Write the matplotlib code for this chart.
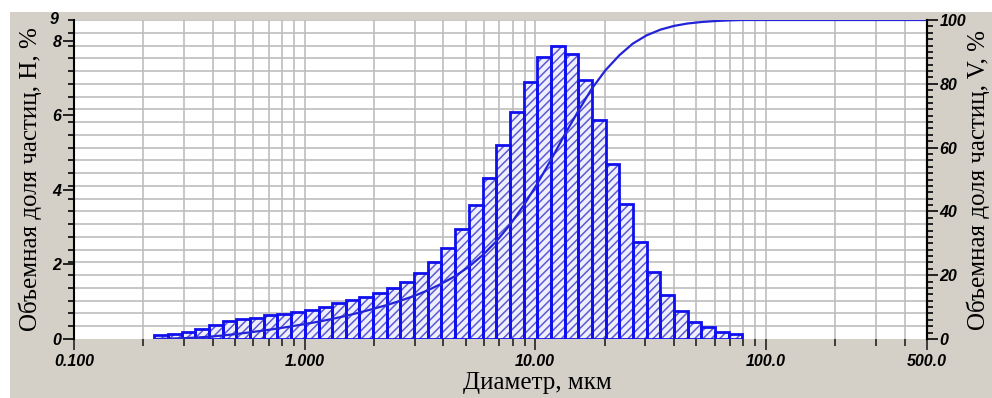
import numpy as np
import matplotlib.pyplot as plt
from matplotlib.patches import Rectangle
from matplotlib.ticker import FixedLocator, MultipleLocator, NullFormatter

# границы классов крупности, мкм
bordes = [0.223, 0.256, 0.293, 0.336, 0.385, 0.441, 0.506, 0.580, 0.665, 0.762,
          0.874, 1.00, 1.15, 1.32, 1.51, 1.73, 1.98, 2.27, 2.60, 2.99,
          3.42, 3.92, 4.50, 5.16, 5.91, 6.77, 7.76, 8.90, 10.2, 11.7,
          13.4, 15.4, 17.6, 20.2, 23.2, 26.5, 30.4, 34.9, 40.0, 45.8,
          52.5, 60.2, 69.0, 79.1]
# объемная доля частиц по классам, H, %
H = [0.11, 0.13, 0.20, 0.28, 0.38, 0.47, 0.53, 0.57, 0.63, 0.67,
     0.72, 0.78, 0.86, 0.96, 1.05, 1.13, 1.22, 1.36, 1.53, 1.76,
     2.07, 2.43, 2.96, 3.60, 4.32, 5.21, 6.08, 6.88, 7.55, 7.86,
     7.64, 6.94, 5.87, 4.70, 3.63, 2.60, 1.80, 1.18, 0.76, 0.46,
     0.31, 0.20, 0.13]
d_max = 500.0

xt_val = [0.1, 1.0, 10.0, 100.0, 500.0]
xt_lab = ["0.100", "1.000", "10.00", "100.0", "500.0"]
yt_izq = [0, 2, 4, 6, 8]
yt_der = [0, 20, 40, 60, 80, 100]

# интегральная кривая V, %
bordes = np.array(bordes)
H = np.array(H)
V = np.concatenate([[0.0], np.cumsum(H) / H.sum() * 100.0, [100.0]])
xV = np.concatenate([bordes, [d_max]])

gris = "#d4d0c8"
azul = "#1010ee"
plt.rcParams["hatch.linewidth"] = 1.1
tick_font = dict(family="Liberation Sans", style="italic", weight="bold", size=11.5)
lab_font = dict(family="Liberation Serif", size=18)

fig = plt.figure(figsize=(9.92, 3.98), dpi=100, facecolor="white")
fig.patches.append(Rectangle((10 / 992, 0), 982 / 992, 386 / 398,
                             transform=fig.transFigure, facecolor=gris,
                             edgecolor="none", zorder=-10))

ax = fig.add_axes([74 / 992, 59 / 398, 853 / 992, 319 / 398])
ax.set_xscale("log")
ax.set_xlim(0.1, d_max)
ax.set_ylim(0, 8.55)
ax.set_axisbelow(True)

# гистограмма: штриховка + контур
ax.bar(bordes[:-1], H, width=np.diff(bordes), align="edge",
       facecolor="#eeeefc", edgecolor="#5a5ad4", hatch="////", linewidth=0)
ax.bar(bordes[:-1], H, width=np.diff(bordes), align="edge",
       facecolor="none", edgecolor=azul, linewidth=2.0)

# сетка
minx = [k * 10.0 ** e for e in (-1, 0, 1) for k in range(2, 10)] + [200, 300, 400]
ax.xaxis.set_major_locator(FixedLocator(xt_val))
ax.xaxis.set_minor_locator(FixedLocator(minx))
ax.xaxis.set_minor_formatter(NullFormatter())
ax.set_xticklabels(xt_lab, **tick_font)
ax.yaxis.set_major_locator(FixedLocator(yt_izq))
ax.yaxis.set_minor_locator(MultipleLocator(8.55 / 25))
ax.set_yticklabels([str(v) for v in yt_izq], **tick_font)
ax.grid(True, which="both", axis="x", color="#bdbdbd", lw=1.2)
ax.grid(True, which="minor", axis="y", color="#bdbdbd", lw=1.2)

for s in ("top", "bottom"):
    ax.spines[s].set_visible(False)
ax.spines["left"].set_linewidth(1.5)
ax.spines["right"].set_linewidth(1.5)
ax.tick_params(axis="x", which="major", length=8, width=1.2, color="#222222", pad=3)
ax.tick_params(axis="x", which="minor", length=5, width=1.2, color="#222222")
ax.tick_params(axis="y", which="major", length=8, width=1.4, color="#222222", pad=1)
ax.tick_params(axis="y", which="minor", length=4, width=1.4, color="#222222")
ax.text(-0.018, 1.0, "9", transform=ax.transAxes, ha="right", va="center", **tick_font)

# правая ось
ax2 = ax.twinx()
ax2.set_ylim(0, 100)
ax2.plot(xV, V, color="#2323d8", lw=1.6)
ax2.yaxis.set_major_locator(FixedLocator(yt_der))
ax2.yaxis.set_minor_locator(MultipleLocator(2))
ax2.set_yticklabels([str(v) for v in yt_der], **tick_font)
for s in ("top", "bottom", "left"):
    ax2.spines[s].set_visible(False)
ax2.spines["right"].set_linewidth(1.5)
ax2.tick_params(axis="y", which="major", length=8, width=1.4, color="#222222", pad=1)
ax2.tick_params(axis="y", which="minor", length=4, width=1.4, color="#222222")

fig.text(30 / 992, 1 - 179 / 398, "Объемная доля частиц, H, %", rotation=90,
         ha="center", va="center", **lab_font)
fig.text(978 / 992, 1 - 180 / 398, "Объемная доля частиц, V, %", rotation=90,
         ha="center", va="center", **lab_font)
fig.text(537 / 992, 1 - 383 / 398, "Диаметр, мкм", ha="center", va="center",
         family="Liberation Serif", size=18)

fig.savefig("out.png", dpi=100, facecolor="white")
